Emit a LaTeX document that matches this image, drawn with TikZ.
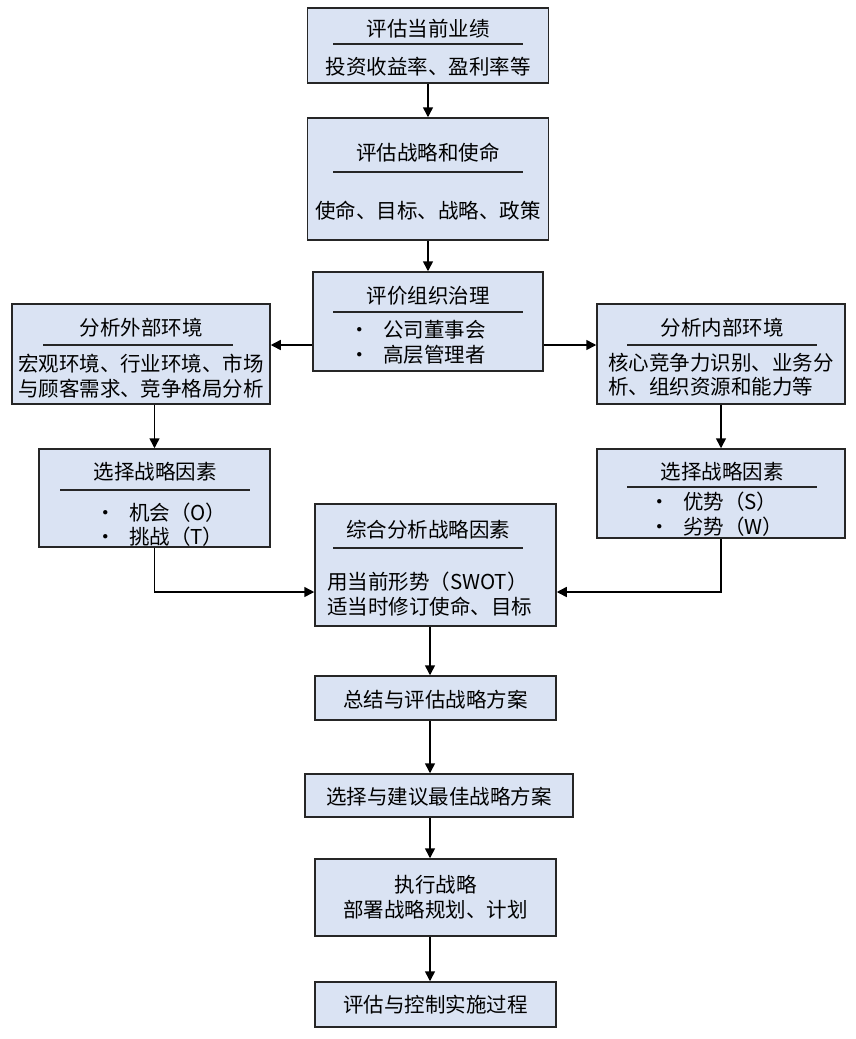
\documentclass[tikz,border=0pt]{standalone}
\usepackage{fontspec}
\newfontfamily\cjk{Noto Sans CJK SC}
\usetikzlibrary{positioning, calc, arrows.meta}
\definecolor{boxfill}{HTML}{DAE3F3}
\definecolor{boxline}{HTML}{262626}
\newcommand\itemdot[1]{\makebox[23pt][l]{\makebox[0pt]{•}}#1}

\begin{document}
\begin{tikzpicture}[x=1pt, y=-1pt,
		box/.style={draw=boxline, fill=boxfill, line width=1.5pt, inner sep=0pt},
		txt/.style={font=\cjk\fontsize{20.5}{24.5}\selectfont, inner sep=0pt, align=left},
		sep/.style={draw=boxline, line width=1.2pt},
		arr/.style={-{Triangle[length=10pt, width=10pt]}, line width=1.5pt}]
			\useasboundingbox (0,0) rectangle (855,1039);

			\node (perf) [box, minimum width=241pt, minimum height=75pt] at (428,45.5) {};
			\node (perft) [txt] at (428,29) {评估当前业绩};
			\draw [sep] (333,44) -- (523,44);
			\node (perfb) [txt] at (428,66.5) {投资收益率、盈利率等};

			\node (miss) [box, minimum width=241pt, minimum height=122pt] at (428,179) {};
			\node (misst) [txt] at (428,152.5) {评估战略和使命};
			\draw [sep] (333,172) -- (523,172);
			\node (missb) [txt] at (428,210.5) {使命、目标、战略、政策};

			\node (gov) [box, minimum width=230pt, minimum height=99pt] at (428,321.5) {};
			\node (govt) [txt] at (428,296) {评价组织治理};
			\draw [sep] (333,312) -- (523,312);
			\node (govb) [txt, anchor=west] at (360,342.5) {\itemdot{公司董事会}\\\itemdot{高层管理者}};

			\node (ext) [box, minimum width=258pt, minimum height=100pt] at (141,354) {};
			\node (extt) [txt] at (141,328) {分析外部环境};
			\draw [sep] (43,345) -- (233,345);
			\node (extb) [txt] at (141,376) {宏观环境、行业环境、市场\\与顾客需求、竞争格局分析};

			\node (int) [box, minimum width=248pt, minimum height=100pt] at (721,354) {};
			\node (intt) [txt] at (722,328) {分析内部环境};
			\draw [sep] (627,345) -- (817,345);
			\node (intb) [txt, anchor=west] at (608,374.5) {核心竞争力识别、业务分\\析、组织资源和能力等};

			\node (selo) [box, minimum width=231pt, minimum height=98pt] at (154.5,498) {};
			\node (selot) [txt] at (155,472) {选择战略因素};
			\draw [sep] (60,490) -- (250,490);
			\node (selob) [txt, anchor=west] at (106,524.5) {\itemdot{机会（O）}\\\itemdot{挑战（T）}};

			\node (sels) [box, minimum width=248pt, minimum height=89pt] at (721,493.5) {};
			\node (selst) [txt] at (722,472) {选择战略因素};
			\draw [sep] (627,487) -- (817,487);
			\node (selsb) [txt, anchor=west] at (660,514) {\itemdot{优势（S）}\\\itemdot{劣势（W）}};

			\node (swot) [box, minimum width=241pt, minimum height=122pt] at (435.5,565) {};
			\node (swott) [txt] at (428,530) {综合分析战略因素};
			\draw [sep] (333,548) -- (523,548);
			\node (swotb) [txt, anchor=west] at (327,594) {用当前形势（SWOT）\\适当时修订使命、目标};

			\node (sum) [box, minimum width=241pt, minimum height=44pt] at (435.5,698) {};
			\node (sumt) [txt] at (435.5,700) {总结与评估战略方案};

			\node (best) [box, minimum width=268pt, minimum height=43pt] at (439,795.5) {};
			\node (bestt) [txt] at (439,797) {选择与建议最佳战略方案};

			\node (exe) [box, minimum width=241pt, minimum height=77pt] at (435.5,897.5) {};
			\node (exet) [txt, align=center] at (435.5,897) {执行战略\\部署战略规划、计划};

			\node (ctl) [box, minimum width=241pt, minimum height=45pt] at (435.5,1004.5) {};
			\node (ctlt) [txt] at (435.5,1005) {评估与控制实施过程};

			\draw [arr] (perf) -- (miss);
			\draw [arr] (miss) -- (gov);
			\draw [arr] ($(gov.west)+(0,23.5)$) coordinate (gl) -- (gl -| ext.east);
			\draw [arr] ($(gov.east)+(0,23.5)$) coordinate (gr) -- (gr -| int.west);
			\draw [arr] (ext.south -| selo.north) -- (selo.north);
			\draw [arr] (int) -- (sels);
			\draw [arr] (selo.south) |- ($(swot.west)+(0,27)$);
			\draw [arr] (sels.south) |- ($(swot.east)+(0,27)$);
			\draw [arr] (swot.south -| 430,0) -- (sum.north -| 430,0);
			\draw [arr] (sum.south -| 430,0) -- (best.north -| 430,0);
			\draw [arr] (best.south -| 430,0) -- (exe.north -| 430,0);
			\draw [arr] (exe.south -| 430,0) -- (ctl.north -| 430,0);
		\end{tikzpicture}
\end{document}
